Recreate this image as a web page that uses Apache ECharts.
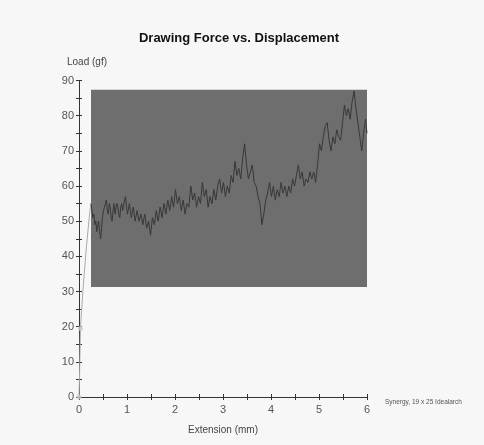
<!DOCTYPE html>
<html>
<head>
<meta charset="utf-8">
<script src="https://cdn.jsdelivr.net/npm/echarts@6/dist/echarts.min.js"></script>
<style>
html,body{margin:0;padding:0;background:#f7f7f7;}
#chart{width:484px;height:445px;}
</style>
</head>
<body>
<div id="chart"></div>
<script>
// Rise segment (light gray)
const riseExt = [0, 0.01, 0.03, 0.08, 0.15, 0.22, 0.25];
const riseLoad = [0, 5, 19.5, 30, 42, 52, 55];

// Main trace
const extension = [0.25,0.27,0.29,0.31,0.33,0.35,0.37,0.39,0.41,0.43,0.45,0.47,0.49,0.51,0.53,0.55,0.57,0.59,0.61,0.63,0.65,0.67,0.69,0.71,0.73,0.75,0.77,0.79,0.81,0.83,0.85,0.87,0.89,0.91,0.93,0.95,0.97,0.99,1.01,1.05,1.09,1.13,1.17,1.21,1.25,1.29,1.33,1.37,1.41,1.45,1.49,1.53,1.57,1.61,1.65,1.69,1.73,1.77,1.81,1.85,1.89,1.93,1.97,2.01,2.05,2.09,2.13,2.17,2.21,2.25,2.29,2.33,2.37,2.41,2.45,2.49,2.53,2.57,2.61,2.65,2.69,2.73,2.77,2.81,2.85,2.89,2.93,2.97,3.01,3.05,3.09,3.13,3.17,3.21,3.25,3.29,3.33,3.37,3.41,3.45,3.49,3.53,3.57,3.61,3.65,3.69,3.73,3.77,3.81,3.85,3.89,3.93,3.97,4.01,4.05,4.09,4.13,4.17,4.21,4.25,4.29,4.33,4.37,4.41,4.45,4.49,4.53,4.57,4.61,4.65,4.69,4.73,4.77,4.81,4.85,4.89,4.93,4.97,5.01,5.05,5.09,5.13,5.17,5.21,5.25,5.29,5.33,5.37,5.41,5.45,5.49,5.53,5.57,5.61,5.65,5.69,5.73,5.77,5.81,5.85,5.89,5.93,5.97,6.0];
const load = [55,53,51,52,49,50,47,49,50,47,45,48,51,53,54,55,56,53,52,55,54,51,50,53,55,52,52,55,54,52,51,54,55,53,53,56,57,54,52,55,51,54,50,53,50,52,49,52,48,50,46,51,49,53,50,54,51,55,52,56,53,57,54,59,55,57,53,56,52,55,54,60,56,58,54,57,55,61,57,59,54,57,55,59,56,60,62,58,61,57,60,58,63,61,67,63,65,62,68,72,66,62,64,66,61,60,57,55,49,52,56,58,61,57,60,56,59,57,61,58,60,57,60,58,62,60,63,66,62,64,60,62,61,64,62,64,61,66,72,70,74,77,78,73,70,74,72,76,74,73,78,83,80,82,79,84,87,82,78,74,70,75,79,75];

// Start markers
const startMarkers = [[0, 0], [0.03, 19.5]];
const squareMarker = [[0.15, -0.8]];

// Shaded region [x0, y0, x1, y1]
const region = [0.25, 31.3, 6.0, 87.4];

// Annotations: [text, x, y]
const annotations = [
  ['IMDF', 0.28, 62.3],
  ['MINIMAL', 1.24, 39.5],
  ['Dynamic (Kinetic) Phase', 1.53, 75.9],
  ['PEAK', 5.34, 90.6]
];

const xTicks = [0, 1, 2, 3, 4, 5, 6];
const yTicks = [0, 10, 20, 30, 40, 50, 60, 70, 80, 90];

const chart = echarts.init(document.getElementById('chart'));
const font = 'Liberation Sans, Arial, sans-serif';

function zip(a, b) { return a.map((v, i) => [v, b[i]]); }

const axisColor = '#333';
const baseX = {
  type: 'value', min: 0, max: 6, interval: 0.5,
  axisLine: { show: true, onZero: false, lineStyle: { color: axisColor, width: 1 } },
  splitLine: { show: false }
};
const baseY = {
  type: 'value', min: 0, max: 90, interval: 5,
  axisLine: { show: true, onZero: false, lineStyle: { color: axisColor, width: 1 } },
  splitLine: { show: false }
};

chart.setOption({
  backgroundColor: '#f7f7f7',
  animation: false,
  title: {
    text: 'Drawing Force vs. Displacement',
    left: 234, top: 27, textAlign: 'center',
    textStyle: { fontFamily: font, fontSize: 13, fontWeight: 'bold', color: '#111' }
  },
  grid: { left: 79, right: 117, top: 80.5, bottom: 48 },
  xAxis: [
    Object.assign({}, baseX, {
      position: 'bottom',
      axisTick: { show: true, inside: false, length: 3, lineStyle: { color: axisColor } },
      axisLabel: {
        margin: 7, color: '#555', fontFamily: font, fontSize: 11,
        formatter: v => (xTicks.indexOf(v) >= 0 ? String(v) : '')
      },
      name: 'Extension (mm)', nameLocation: 'middle', nameGap: 28,
      nameTextStyle: { color: '#444', fontFamily: font, fontSize: 10 }
    }),
    Object.assign({}, baseX, {
      position: 'bottom',
      axisTick: { show: true, inside: true, length: 3, lineStyle: { color: axisColor } },
      axisLabel: { show: false }
    })
  ],
  yAxis: [
    Object.assign({}, baseY, {
      position: 'left',
      axisTick: { show: true, inside: false, length: 3, lineStyle: { color: axisColor } },
      axisLabel: {
        margin: 5, color: '#555', fontFamily: font, fontSize: 11,
        formatter: v => (yTicks.indexOf(v) >= 0 ? String(v) : '')
      }
    }),
    Object.assign({}, baseY, {
      position: 'left',
      axisTick: { show: true, inside: true, length: 3, lineStyle: { color: axisColor } },
      axisLabel: { show: false }
    })
  ],
  graphic: [
    { type: 'text', left: 67, top: 57,
      style: { text: 'Load (gf)', fill: '#444', font: '10px ' + font } },
    { type: 'text', left: 385, top: 399,
      style: { text: 'Synergy, 19 x 25 Idealarch', fill: '#555', font: '6.5px ' + font } }
  ],
  series: [
    {
      type: 'line', xAxisIndex: 0, yAxisIndex: 0,
      data: [], silent: true,
      markArea: {
        silent: true,
        itemStyle: { color: '#6e6e6e' },
        data: [[{ coord: [region[0], region[1]] }, { coord: [region[2], region[3]] }]]
      }
    },
    {
      type: 'line', data: zip(riseExt, riseLoad), symbol: 'none',
      lineStyle: { color: '#aaaaaa', width: 1 }, z: 3
    },
    {
      type: 'line', data: zip(extension, load), symbol: 'none',
      lineStyle: { color: '#383838', width: 1 }, z: 4,
      markPoint: {
        symbol: 'none',
        data: annotations.map(a => ({
          coord: [a[1], a[2]],
          label: {
            show: true, formatter: a[0], position: 'right', distance: 0,
            color: '#151515', fontFamily: font, fontSize: 13
          }
        }))
      }
    },
    {
      type: 'scatter', data: startMarkers, symbol: 'circle', symbolSize: 5,
      itemStyle: { color: '#cccccc' }, z: 5
    },
    {
      type: 'scatter', data: squareMarker, symbol: 'emptyRect', symbolSize: 5,
      itemStyle: { color: '#bbbbbb', borderColor: '#bbbbbb' }, z: 5
    }
  ]
});
</script>
</body>
</html>
